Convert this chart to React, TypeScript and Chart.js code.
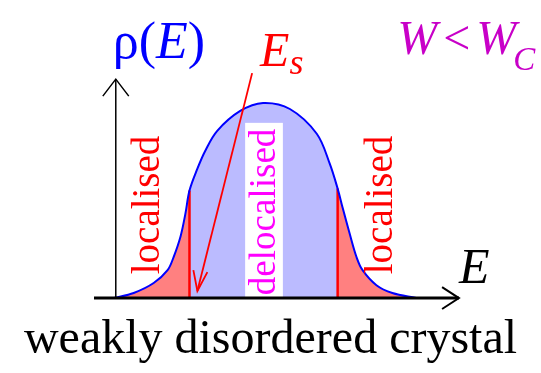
import { useEffect, useRef } from "react";
import { Chart, registerables } from "chart.js";

Chart.register(...registerables);

// Density of states ρ(E): energy (band centre = 0) and ρ (peak = 1)
const ENERGY = [-1.0, -0.867, -0.733, -0.64, -0.6, -0.553, -0.52, -0.493, -0.44, -0.387, -0.307, -0.153, 0, 0.18, 0.36, 0.447, 0.5, 0.533, 0.58, 0.627, 0.667, 0.76, 0.867, 1.027];
const DOS = [0, 0.026, 0.077, 0.143, 0.209, 0.316, 0.434, 0.551, 0.663, 0.755, 0.857, 0.959, 1, 0.969, 0.842, 0.689, 0.561, 0.464, 0.332, 0.209, 0.143, 0.066, 0.026, 0];

// Mobility edges and the DOS value at each edge
const MOBILITY_EDGES = [-0.493, 0.5];
const EDGE_DOS = [0.551, 0.561];

// Axes (E, ρ)
const X_AXIS_E = [-1.133, 1.313];
const Y_AXIS_RHO = [0, 1.122];
const AXIS_ORIGIN_E = -0.987;

// Arrow pointing at E_s: from label to tip
const ES_ARROW_E = [-0.073, -0.44];
const ES_ARROW_RHO = [1.153, 0.036];

const CAPTION = "weakly disordered crystal";

const X_MIN = -1.753;
const X_MAX = 1.853;
const Y_MIN = -0.0684;
const Y_MAX = 1.52;

const SERIF = "'Liberation Serif', serif";

type Run = { t: string; it?: boolean; size: number; dy?: number; dx?: number };
type Label = { runs: Run[]; color: string; x: number; y: number; rotate?: boolean };

const LABELS: Label[] = [
  { runs: [{ t: "ρ(", size: 52 }, { t: "E", it: true, size: 52 }, { t: ")", size: 52 }], color: "#0000ff", x: -1.007, y: 1.23 },
  { runs: [{ t: "E", it: true, size: 48 }, { t: "s", it: true, size: 36, dy: 8 }], color: "#ff0000", x: -0.02, y: 1.189 },
  { runs: [{ t: "W", it: true, size: 48 }, { t: "<", size: 48, dx: 6 }, { t: "W", it: true, size: 48, dx: 6 }, { t: "C", it: true, size: 33, dy: 16, dx: -3 }], color: "#c800c8", x: 0.9, y: 1.25 },
  { runs: [{ t: "E", it: true, size: 50 }], color: "#000000", x: 1.313, y: 0.077 },
  { runs: [{ t: "localised", size: 39 }], color: "#ff0000", x: -0.7, y: 0.122, rotate: true },
  { runs: [{ t: "localised", size: 39 }], color: "#ff0000", x: 0.867, y: 0.122, rotate: true },
  { runs: [{ t: "delocalised", size: 37 }], color: "#ff00ff", x: 0.08, y: 0.015, rotate: true },
];

// white box behind "delocalised" (E range, ρ range)
const DELOC_BOX_E = [-0.12, 0.133];
const DELOC_BOX_RHO = [0, 0.898];

function font(r: Run) {
  return `${r.it ? "italic " : ""}${r.size}px ${SERIF}`;
}

const labelPlugin = {
  id: "dosLabels",
  afterDatasetDraw(chart: any, args: any) {
    if (args.index !== 0) return;
    const { ctx, scales } = chart;
    const x0 = scales.x.getPixelForValue(DELOC_BOX_E[0]);
    const x1 = scales.x.getPixelForValue(DELOC_BOX_E[1]);
    const y0 = scales.y.getPixelForValue(DELOC_BOX_RHO[1]);
    const y1 = scales.y.getPixelForValue(DELOC_BOX_RHO[0]);
    ctx.save();
    ctx.fillStyle = "#ffffff";
    ctx.fillRect(x0, y0, x1 - x0, y1 - y0);
    ctx.restore();
  },
  afterDatasetsDraw(chart: any) {
    const { ctx, scales } = chart;
    for (const lab of LABELS) {
      const px = scales.x.getPixelForValue(lab.x);
      const py = scales.y.getPixelForValue(lab.y);
      ctx.save();
      ctx.translate(px, py);
      if (lab.rotate) ctx.rotate(-Math.PI / 2);
      ctx.fillStyle = lab.color;
      ctx.textAlign = "left";
      ctx.textBaseline = "alphabetic";
      let cx = 0;
      for (const r of lab.runs) {
        ctx.font = font(r);
        cx += r.dx || 0;
        ctx.fillText(r.t, cx, r.dy || 0);
        cx += ctx.measureText(r.t).width;
      }
      ctx.restore();
    }
  },
};

export default function App() {
  const ref = useRef<HTMLCanvasElement>(null);
  useEffect(() => {
    if (!ref.current) return;
    const curve = ENERGY.map((x, i) => ({ x, y: DOS[i] }));
    const leftTail = curve.filter((p) => p.x <= MOBILITY_EDGES[0]);
    const rightTail = curve.filter((p) => p.x >= MOBILITY_EDGES[1]);
    const none = "rgba(0,0,0,0)";
    const arrowDx = 0.087;
    const arrowDy = 0.087;
    const ax = ES_ARROW_E[1], ay = ES_ARROW_RHO[1];
    const T = 0.35;
    const chart = new Chart(ref.current, {
      type: "line",
      data: {
        datasets: [
          { data: curve, fill: "origin", backgroundColor: "#bbbbff", borderColor: none, borderWidth: 1, tension: T, order: 10 },
          { data: leftTail, fill: "origin", backgroundColor: "#ff8080", borderColor: none, borderWidth: 1, tension: T, order: 9 },
          { data: rightTail, fill: "origin", backgroundColor: "#ff8080", borderColor: none, borderWidth: 1, tension: T, order: 9 },
          { data: [{ x: MOBILITY_EDGES[0], y: 0 }, { x: MOBILITY_EDGES[0], y: EDGE_DOS[0] }], borderColor: "#ff0000", borderWidth: 2.5, fill: false, order: 8 },
          { data: [{ x: MOBILITY_EDGES[1], y: 0 }, { x: MOBILITY_EDGES[1], y: EDGE_DOS[1] }], borderColor: "#ff0000", borderWidth: 2.5, fill: false, order: 8 },
          { data: curve, fill: false, borderColor: "#0000ff", borderWidth: 2, tension: T, order: 5 },
          // axes
          { data: [{ x: X_AXIS_E[0], y: 0 }, { x: X_AXIS_E[1], y: 0 }], borderColor: "#000", borderWidth: 3, fill: false, order: 3 },
          { data: [{ x: X_AXIS_E[1] - 0.113, y: 0.056 }, { x: X_AXIS_E[1], y: 0 }, { x: X_AXIS_E[1] - 0.113, y: -0.056 }], borderColor: "#000", borderWidth: 2, fill: false, order: 3 },
          { data: [{ x: AXIS_ORIGIN_E, y: Y_AXIS_RHO[0] }, { x: AXIS_ORIGIN_E, y: Y_AXIS_RHO[1] }], borderColor: "#000", borderWidth: 1.5, fill: false, order: 3 },
          { data: [{ x: AXIS_ORIGIN_E - arrowDx, y: Y_AXIS_RHO[1] - arrowDy }, { x: AXIS_ORIGIN_E, y: Y_AXIS_RHO[1] }, { x: AXIS_ORIGIN_E + arrowDx, y: Y_AXIS_RHO[1] - arrowDy }], borderColor: "#000", borderWidth: 1.5, fill: false, order: 3 },
          // E_s arrow
          { data: [{ x: ES_ARROW_E[0], y: ES_ARROW_RHO[0] }, { x: ax, y: ay }], borderColor: "#ff0000", borderWidth: 1.8, fill: false, order: 1 },
          { data: [{ x: ax - 0.027, y: ay + 0.107 }, { x: ax, y: ay }, { x: ax + 0.067, y: ay + 0.097 }], borderColor: "#ff0000", borderWidth: 1.8, fill: false, order: 1 },
        ],
      },
      options: {
        animation: false,
        responsive: false,
        devicePixelRatio: 1,
        events: [],
        layout: { padding: 0 },
        elements: { point: { radius: 0 }, line: { borderCapStyle: "butt" } },
        scales: {
          x: { type: "linear", min: X_MIN, max: X_MAX, display: false },
          y: { type: "linear", min: Y_MIN, max: Y_MAX, display: false },
        },
        plugins: {
          legend: { display: false },
          tooltip: { enabled: false },
          title: {
            display: true,
            position: "bottom",
            text: CAPTION,
            color: "#000",
            font: { family: SERIF, size: 48, weight: "normal", lineHeight: 1.2 },
            padding: { top: 0, bottom: 4 },
          },
        },
      },
      plugins: [labelPlugin],
    } as any);
    let alive = true;
    const fonts = (document as any).fonts;
    if (fonts && fonts.load) {
      Promise.all([
        fonts.load("42px 'Liberation Serif'"),
        fonts.load("italic 42px 'Liberation Serif'"),
      ]).then(() => {
        if (alive) chart.update();
      });
    }
    return () => {
      alive = false;
      chart.destroy();
    };
  }, []);
  return (
    <div style={{ position: "fixed", left: 0, top: 0, width: 541, height: 373, background: "#fff" }}>
      <span style={{ position: "absolute", left: 0, top: 0, visibility: "hidden", fontFamily: "'Liberation Serif'" }}>
        weakly <i>E</i>
      </span>
      <canvas ref={ref} width={541} height={373} style={{ position: "absolute", left: 0, top: 0 }} />
    </div>
  );
}
